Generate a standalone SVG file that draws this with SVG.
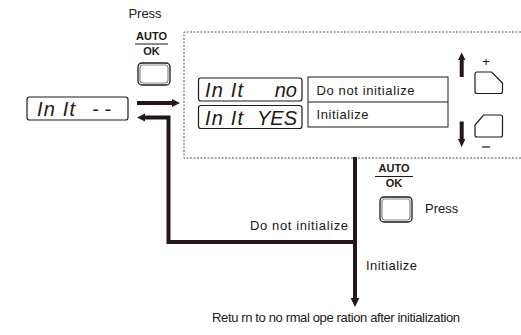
<svg xmlns="http://www.w3.org/2000/svg" width="521" height="335" viewBox="0 0 521 335">
<style>
.t{font-family:"Liberation Sans",Arial,sans-serif;font-size:13px;fill:#231815}
.b{font-family:"Liberation Sans",Arial,sans-serif;font-size:11px;font-weight:bold;fill:#231815}
.seg{font-family:"Liberation Sans",Arial,sans-serif;font-size:20px;font-style:italic;fill:#231815}
.disp{fill:#fff;stroke:#231815;stroke-width:1.2}
.ln{fill:none;stroke:#231815;stroke-width:4}
.hd{fill:#231815}
.bo{fill:#fff;stroke:#231815;stroke-width:1.3}
.bi{fill:none;stroke:#8a8a8a;stroke-width:1.2}
</style>
<rect width="521" height="335" fill="#fff"/>
<g id="panel">
<path d="M521,32 H184 V158 H521" fill="none" stroke="#555" stroke-width="1" stroke-dasharray="2 1.5"/>
</g>
<g id="display-init">
<rect class="disp" x="27" y="97" width="101" height="23" rx="2.5"/>
<text class="seg" x="37" y="116" textLength="38">In It</text>
<text class="seg" x="92" y="116">- -</text>
</g>
<g id="display-no">
<rect class="disp" x="198.5" y="78" width="103.5" height="23" rx="2.5"/>
<text class="seg" x="205" y="97" textLength="38">In It</text>
<text class="seg" x="297" y="97" text-anchor="end">no</text>
</g>
<g id="display-yes">
<rect class="disp" x="198.5" y="105.5" width="103.5" height="23" rx="2.5"/>
<text class="seg" x="205" y="124.5" textLength="38">In It</text>
<text class="seg" x="297" y="124.5" text-anchor="end">YES</text>
</g>
<g id="table">
<rect x="308" y="77" width="140" height="50" fill="#fff" stroke="#231815" stroke-width="1"/>
<line x1="308" y1="102" x2="448" y2="102" stroke="#231815" stroke-width="1"/>
<text class="t" x="316.5" y="95" textLength="98">Do not initialize</text>
<text class="t" x="316.5" y="119" textLength="52">Initialize</text>
</g>
<g id="button-top">
<text class="t" x="145" y="18" text-anchor="middle" font-size="11.5">Press</text>
<text class="b" x="151.5" y="40" text-anchor="middle">AUTO</text>
<line x1="135" y1="44" x2="168" y2="44" stroke="#231815" stroke-width="1"/>
<text class="b" x="151.5" y="55" text-anchor="middle">OK</text>
<rect class="bo" x="138" y="63" width="32" height="22" rx="4"/>
<rect class="bi" x="140" y="65" width="28" height="18" rx="3"/>
</g>
<g id="button-bottom">
<text class="b" x="394" y="172" text-anchor="middle">AUTO</text>
<line x1="375" y1="176.5" x2="413" y2="176.5" stroke="#231815" stroke-width="1"/>
<text class="b" x="394" y="187" text-anchor="middle">OK</text>
<rect class="bo" x="380" y="197" width="32" height="25" rx="4"/>
<rect class="bi" x="382" y="199" width="28" height="21" rx="3"/>
<text class="t" x="425" y="213">Press</text>
</g>
<g id="button-plus">
<text class="t" x="486" y="66" text-anchor="middle" font-size="14">+</text>
<path d="M477,72 H491.5 L502.5,83 V91.5 Q502.5,93.5 500.5,93.5 H477 Q475,93.5 475,91.5 V74 Q475,72 477,72 Z" fill="#fff" stroke="#231815" stroke-width="1.2"/>
</g>
<g id="button-minus">
<path d="M483.5,115 H500.5 Q502.5,115 502.5,117 V135 Q502.5,137 500.5,137 H477 Q475,137 475,135 V125 Z" fill="#fff" stroke="#231815" stroke-width="1.2"/>
<line x1="482" y1="147" x2="490" y2="147" stroke="#231815" stroke-width="1.2"/>
</g>
<g id="connectors">
<line class="ln" x1="137" y1="103" x2="173" y2="103"/>
<polygon class="hd" points="172,99 180,103 172,107"/>
<path class="ln" d="M355,242 H168.5 V117.5 H144"/>
<polygon class="hd" points="145,113.5 137,117.5 145,121.5"/>
<line class="ln" x1="355" y1="157" x2="355" y2="300"/>
<polygon class="hd" points="350.6,298 359.4,298 355,307"/>
<line class="ln" x1="461.7" y1="77" x2="461.7" y2="59"/>
<polygon class="hd" points="458,60 465.4,60 461.7,52.5"/>
<line class="ln" x1="461.7" y1="121.5" x2="461.7" y2="140"/>
<polygon class="hd" points="458,139 465.4,139 461.7,147"/>
</g>
<g id="labels">
<text class="t" x="250" y="230" textLength="98">Do not initialize</text>
<text class="t" x="366" y="270" textLength="51">Initialize</text>
<text class="t" x="212" y="322" textLength="248">Retu rn to no rmal ope ration after initialization</text>
</g>
</svg>
